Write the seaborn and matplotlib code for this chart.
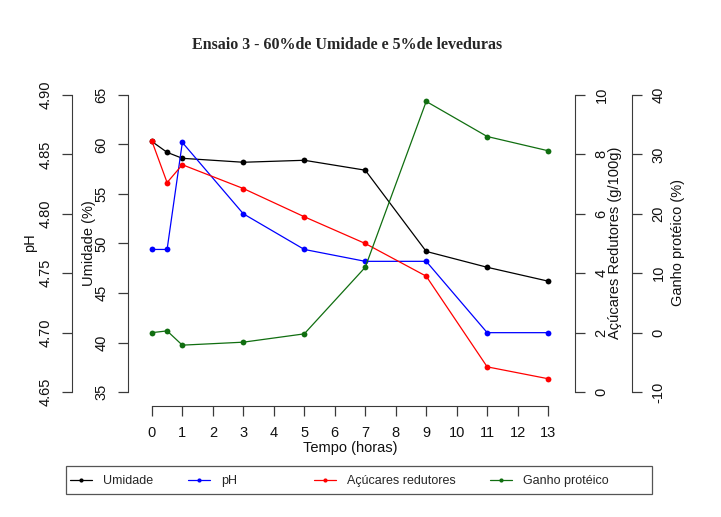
import matplotlib
matplotlib.use('Agg')
import matplotlib.pyplot as plt
import seaborn as sns
from matplotlib.lines import Line2D
from matplotlib.patches import Rectangle

# ---------------- data ----------------
tempo = [0, 0.5, 1, 3, 5, 7, 9, 11, 13]
umidade = [60.3, 59.2, 58.6, 58.2, 58.4, 57.4, 49.2, 47.6, 46.2]
ph = [4.77, 4.77, 4.86, 4.80, 4.77, 4.76, 4.76, 4.70, 4.70]
acucares = [8.45, 7.05, 7.65, 6.85, 5.9, 5.0, 3.9, 0.85, 0.45]
ganho = [0.0, 0.3, -2.1, -1.6, -0.2, 11.0, 38.9, 33.0, 30.6]

x_ticks = list(range(0, 14))
umid_ticks = [35, 40, 45, 50, 55, 60, 65]
ph_ticks = [4.65, 4.70, 4.75, 4.80, 4.85, 4.90]
ph_labels = ["4.65", "4.70", "4.75", "4.80", "4.85", "4.90"]
acu_ticks = [0, 2, 4, 6, 8, 10]
ganho_ticks = [-10, 0, 10, 20, 30, 40]

series_names = ["Umidade", "pH", "Açúcares redutores", "Ganho protéico"]
series_colors = ["black", "#0000FF", "#FF0000", "#106e10"]

title = "Ensaio 3 - 60%de Umidade e 5%de leveduras"
xlabel = "Tempo (horas)"
ylabels = ["pH", "Umidade (%)", "Açúcares Redutores (g/100g)", "Ganho protéico (%)"]

# ---------------- layout ----------------
sns.set_style("white")
plt.rcParams['font.family'] = ['Liberation Sans', 'DejaVu Sans']

W, H = 721, 517
fig = plt.figure(figsize=(W / 100, H / 100), dpi=100)
fig.patch.set_facecolor('white')


def fx(px):
    return px / W


def fy(py):
    return 1 - py / H


L, R, T, B = 136, 564, 83, 404
ax = fig.add_axes([fx(L), fy(B), fx(R) - fx(L), fy(T) - fy(B)])
ax_ph = ax.twinx()
ax_acu = ax.twinx()
ax_gan = ax.twinx()

axes = [ax, ax_ph, ax_acu, ax_gan]
values = [umidade, ph, acucares, ganho]
for a, v, c in zip(axes, values, series_colors):
    sns.lineplot(x=tempo, y=v, ax=a, color=c, marker='o', markersize=4.2,
                 markeredgewidth=0, linewidth=0.9, sort=False)
    a.set_xlabel('')
    a.set_ylabel('')
    for s in a.spines.values():
        s.set_visible(False)

ax.set_xlim(-0.52, 13.52)
ax.set_ylim(35 - 1.2, 65 + 1.2)
ax_ph.set_ylim(4.65 - 0.01, 4.90 + 0.01)
ax_acu.set_ylim(-0.4, 10.4)
ax_gan.set_ylim(-12, 42)

spine_col = '#3a3a3a'
tick_kw = dict(direction='out', length=7, width=0.9, color=spine_col,
               labelsize=10.5, labelcolor='#111111')

# x axis
ax.spines['bottom'].set_visible(True)
ax.spines['bottom'].set_position(('outward', 1.5))
ax.spines['bottom'].set_bounds(0, 13)
ax.spines['bottom'].set_color(spine_col)
ax.set_xticks(x_ticks)
ax.set_xticklabels([str(t) for t in x_ticks])
ax.tick_params(axis='x', pad=7.5, **tick_kw)
ax.xaxis.tick_bottom()


def left_axis(a, pos, ticks, labels, lo, hi):
    a.yaxis.tick_left()
    sp = a.spines['left']
    sp.set_visible(True)
    sp.set_position(('axes', pos))
    sp.set_bounds(lo, hi)
    sp.set_color(spine_col)
    a.set_yticks(ticks)
    a.set_yticklabels(labels)
    a.tick_params(axis='y', pad=7, labelrotation=90, left=True, right=False,
                  labelleft=True, labelright=False, **tick_kw)
    for lbl in a.get_yticklabels():
        lbl.set_va('center')


def right_axis(a, pos, ticks, labels, lo, hi):
    a.yaxis.tick_right()
    sp = a.spines['right']
    sp.set_visible(True)
    sp.set_position(('axes', pos))
    sp.set_bounds(lo, hi)
    sp.set_color(spine_col)
    a.set_yticks(ticks)
    a.set_yticklabels(labels)
    a.tick_params(axis='y', pad=7, labelrotation=90, right=True, left=False,
                  labelright=True, labelleft=False, **tick_kw)
    for lbl in a.get_yticklabels():
        lbl.set_va('center')


wid = R - L
left_axis(ax, (128 - L) / wid, umid_ticks, [str(t) for t in umid_ticks], 35, 65)
left_axis(ax_ph, (72 - L) / wid, ph_ticks, ph_labels, 4.65, 4.90)
right_axis(ax_acu, (575 - L) / wid, acu_ticks, [str(t) for t in acu_ticks], 0, 10)
right_axis(ax_gan, (632 - L) / wid, ganho_ticks, [str(t) for t in ganho_ticks], -10, 40)

# axis titles
lab_kw = dict(rotation=90, ha='center', va='center', fontsize=10.5, color='#111111')
fig.text(fx(30), fy(243), ylabels[0], **lab_kw)
fig.text(fx(89), fy(243), ylabels[1], **lab_kw)
fig.text(fx(615), fy(243), ylabels[2], **lab_kw)
fig.text(fx(678), fy(243), ylabels[3], **lab_kw)
fig.text(fx(350), fy(448), xlabel, ha='center', va='center', fontsize=10.5, color='#111111')

# title
fig.text(fx(347), fy(45), title, ha='center', va='center', fontsize=11.5,
         fontweight='bold', family=['Liberation Serif', 'DejaVu Serif'])

# legend
fig.add_artist(Rectangle((fx(66), fy(494)), fx(652) - fx(66), fy(466) - fy(494),
                         transform=fig.transFigure, fill=False, ec='#555555', lw=0.9))
leg_x = [70, 188, 314, 490]
for name, col, lx in zip(series_names, series_colors, leg_x):
    h = Line2D([], [], color=col, marker='o', markersize=3, markeredgewidth=0, lw=0.9)
    fig.legend([h], [name], loc='center left', bbox_to_anchor=(fx(lx), fy(481)),
               frameon=False, fontsize=9, handlelength=1.75, handletextpad=0.9,
               borderpad=0, borderaxespad=0)

fig.savefig('out.png', dpi=100, facecolor='white')
